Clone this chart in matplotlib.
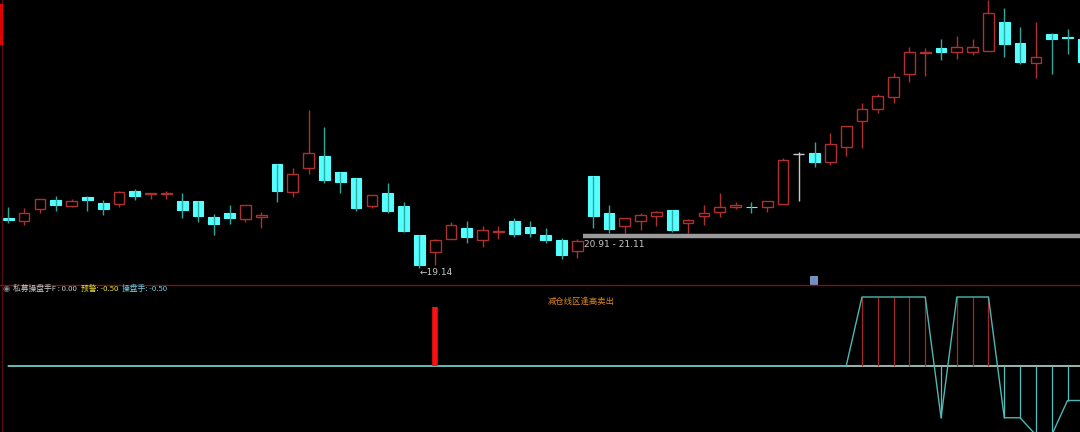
import matplotlib
matplotlib.use('Agg')
import matplotlib.pyplot as plt
from matplotlib.lines import Line2D
from matplotlib.patches import Rectangle
import numpy as np

plt.rcParams['font.family'] = ['Noto Sans CJK SC', 'DejaVu Sans']

# daily OHLC
opens = [22.07, 21.89, 22.59, 23.12, 22.77, 23.29, 22.94, 22.88, 23.64, 23.47,
         23.50, 23.06, 23.06, 22.13, 22.36, 22.01, 22.13, 25.22, 23.59, 24.99,
         25.69, 24.76, 24.41, 22.77, 23.53, 22.77, 21.07, 20.08, 20.84, 21.48,
         20.78, 21.25, 21.89, 21.54, 21.07, 20.78, 20.13, 24.52, 22.36, 21.60,
         21.89, 22.18, 22.53, 21.77, 22.18, 22.42, 22.71, 22.74, 22.71, 22.88,
         25.81, 25.87, 25.34, 26.22, 27.74, 28.44, 29.14, 30.49, 31.72, 32.01,
         31.78, 31.78, 31.84, 33.53, 32.30, 31.13, 32.83, 32.62, 32.54]
highs = [22.71, 22.65, 23.18, 23.35, 23.18, 23.35, 23.12, 23.64, 23.76, 23.53,
         23.64, 23.53, 23.06, 22.30, 22.83, 22.83, 22.42, 25.22, 24.99, 28.38,
         27.39, 24.76, 24.41, 23.41, 24.11, 23.00, 21.07, 20.84, 21.83, 21.89,
         21.60, 21.60, 22.07, 21.89, 21.48, 20.90, 20.84, 24.52, 22.83, 22.07,
         22.36, 22.48, 22.53, 22.01, 22.83, 23.53, 23.00, 23.00, 23.06, 25.58,
         25.93, 26.51, 27.04, 27.45, 28.79, 29.32, 30.55, 32.07, 32.01, 32.54,
         32.71, 32.54, 34.82, 34.35, 33.24, 33.53, 32.89, 33.12, 32.60]
lows = [21.77, 21.66, 22.36, 22.48, 22.71, 22.48, 22.24, 22.71, 23.12, 23.18,
        23.18, 22.07, 21.83, 21.07, 21.72, 21.83, 21.48, 23.00, 23.29, 24.64,
        24.11, 23.53, 22.48, 22.65, 22.36, 21.25, 19.14, 19.32, 20.84, 20.60,
        20.37, 20.84, 20.96, 20.96, 20.60, 19.67, 19.73, 21.48, 21.19, 21.19,
        21.36, 21.60, 21.25, 21.19, 21.66, 22.13, 22.59, 22.36, 22.42, 22.88,
        23.06, 25.05, 25.17, 25.69, 26.16, 28.21, 28.79, 30.02, 30.37, 31.31,
        31.37, 31.60, 31.84, 31.48, 31.07, 30.26, 30.49, 31.66, 31.00]
closes = [21.95, 22.36, 23.18, 22.83, 23.06, 23.12, 22.59, 23.59, 23.35, 23.53,
          23.53, 22.53, 22.18, 21.72, 22.07, 22.83, 22.24, 23.64, 24.64, 25.87,
          24.29, 24.17, 22.65, 23.41, 22.48, 21.31, 19.32, 20.78, 21.66, 20.96,
          21.36, 21.31, 21.13, 21.19, 20.78, 19.90, 20.72, 22.18, 21.42, 22.07,
          22.24, 22.42, 21.36, 21.95, 22.36, 22.71, 22.83, 22.71, 23.06, 25.46,
          25.81, 25.34, 26.39, 27.45, 28.44, 29.20, 30.31, 31.78, 31.78, 31.78,
          32.07, 32.07, 34.06, 32.24, 31.19, 31.48, 32.54, 32.60, 31.19]

# lower panel indicator
trader = [0.0] * 54 + [1, 1, 1, 1, 1, -0.75, 1, 1, 1, -0.75, -0.75, -1, -1, -0.5, -0.5]
signal_bar = 27
signal_value = 0.85

support_low, support_high = 20.91, 21.11
support_start = 36

legend_items = [('私募操盘手F : 0.00', '#c8c8c8'),
                ('预警: -0.50', '#e8e030'),
                ('操盘手: -0.50', '#6ed0e8')]

BG = '#000000'
UP = '#b03030'
DOWN = '#55ffff'
DOWN_WICK = '#2fa8a0'
DOJI = '#c8c8c8'

W, H = 1080, 432
fig = plt.figure(figsize=(W / 100, H / 100), dpi=100, facecolor=BG)
split = 285

ax = fig.add_axes([0, 1 - split / H, 1, split / H], facecolor=BG)
ax2 = fig.add_axes([0, 0, 1, (H - split) / H], facecolor=BG)

n = len(opens)
idx = np.arange(n)
bw = 0.68
for i in idx:
    o, h, l, c = opens[i], highs[i], lows[i], closes[i]
    top, bot = max(o, c), min(o, c)
    if o == c:
        ax.vlines(i, l, h, color=DOJI, lw=1)
        ax.hlines(o, i - bw / 2, i + bw / 2, color=DOJI, lw=1)
    elif c > o:
        ax.vlines(i, top, h, color=UP, lw=1)
        ax.vlines(i, l, bot, color=UP, lw=1)
        ax.add_patch(Rectangle((i - bw / 2, bot), bw, top - bot,
                               facecolor='none', edgecolor=UP, lw=1.0))
    else:
        ax.vlines(i, l, h, color=DOWN_WICK, lw=1)
        ax.add_patch(Rectangle((i - bw / 2, bot), bw, max(top - bot, 0.03),
                               facecolor=DOWN, edgecolor=DOWN, lw=0.8))

xmin, xmax = -0.525, 67.79
ax.set_xlim(xmin, xmax)
ax.set_ylim(18.15, 34.82)
ax.axis('off')

# support zone line and labels
mid = (support_low + support_high) / 2
ax.hlines(mid, support_start + bw / 2, xmax, color='#9a9a9a', lw=3.2)
ax.text(support_start + bw / 2 + 0.1, mid - 0.25, f'{support_low:.2f} - {support_high:.2f}',
        color='#c8c8c8', fontsize=6.5, va='top', ha='left', family='DejaVu Sans')

lo_i = int(np.argmin(lows))
ax.text(lo_i, lows[lo_i] - 0.02, f'←{lows[lo_i]:.2f}', color='#c8c8c8', fontsize=6.5,
        va='top', ha='left', family='DejaVu Sans')
hi_i = int(np.argmax(highs))
ax.text(hi_i + 0.55, highs[hi_i] - 0.12, f'{highs[hi_i]:.2f}', color='#c8c8c8', fontsize=6.5,
        va='bottom', ha='left', family='DejaVu Sans', clip_on=False)

# lower panel
ax2.set_xlim(xmin, xmax)
ax2.set_ylim(-66 / 69, 81 / 69)
ax2.axis('off')
ax2.hlines(0, 0, xmax, color='#a8c4bc', lw=1.3)
for i, v in enumerate(trader):
    if v > 0:
        ax2.vlines(i, 0, v, color='#a02828', lw=0.9)
    elif v < 0:
        ax2.vlines(i, 0, v, color='#4cc0c0', lw=0.9)
ax2.plot(idx, trader, color='#4cb8b4', lw=1.0)
ax2.vlines(signal_bar, 0, signal_value, color='#ff1010', lw=4)

# frame lines
fig.add_artist(Line2D([2 / W, 2 / W], [0, 1], color='#5a0c0c', lw=1))
fig.add_artist(Line2D([0, 1], [1 - split / H, 1 - split / H], color='#7a1212', lw=1))
fig.add_artist(Line2D([1 / W, 1 / W], [1 - 5 / H, 1 - 43 / H], color='#e00000', lw=2.2))
fig.add_artist(Rectangle((810 / W, 1 - 284 / H), 7 / W, 8 / H, transform=fig.transFigure,
                         facecolor='#6f8fc8', edgecolor='#a0b8e0', lw=0.5))

# legend row, each item placed right after the previous one
fig.text(6 / W, 1 - 289 / H, '◉', color='#8a8a8a', fontsize=6, va='center', ha='center',
         family='DejaVu Sans')
renderer = fig.canvas.get_renderer()
x = 13
for label, col in legend_items:
    t = fig.text(x / W, 1 - 289 / H, label, color=col, fontsize=5.6, va='center')
    x = t.get_window_extent(renderer).x1 + 4
fig.text(548 / W, 1 - 301 / H, '减仓线区逢高卖出', color='#e08a20', fontsize=6, va='center')

fig.savefig('out.png', dpi=100, facecolor=BG)
